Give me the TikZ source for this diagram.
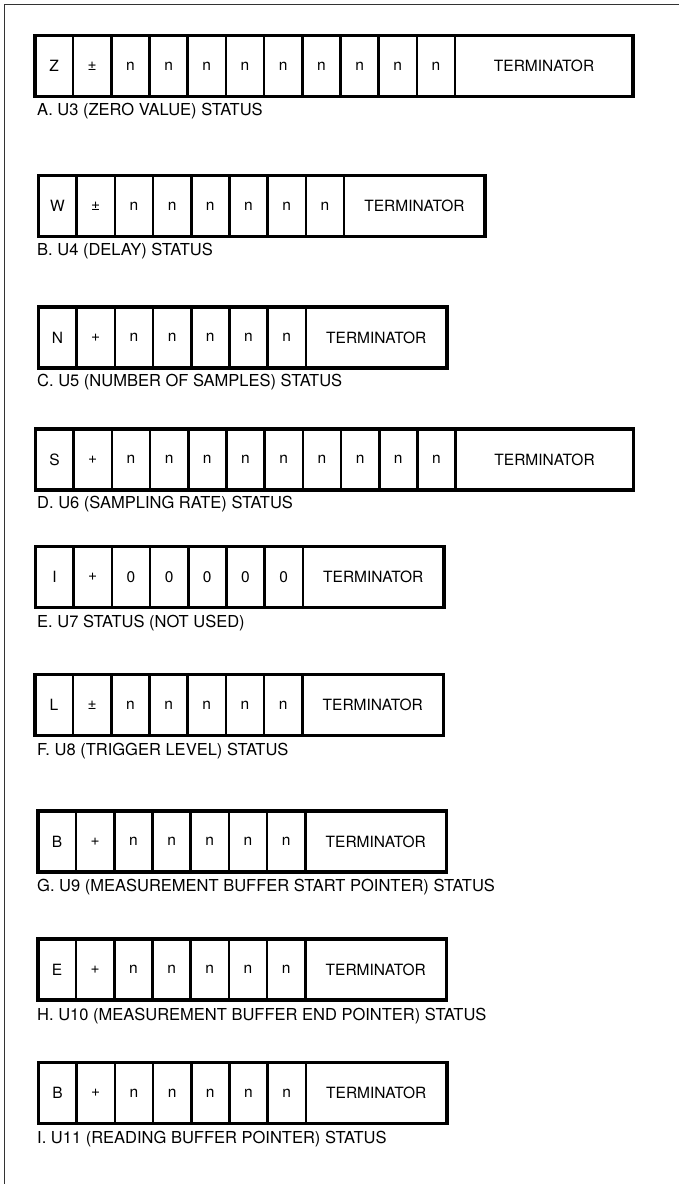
\documentclass[tikz,border=0pt]{standalone}
\usepackage{fontspec}
\setmainfont{TeX Gyre Heros}
\usepackage{tikz}
\usetikzlibrary{positioning}

\begin{document}
\begin{tikzpicture}[
  x=1pt, y=-1pt,
  node distance=0pt,
  cell/.style={rectangle, draw, line width=2.6pt, minimum width=38.2pt, minimum height=61pt, inner sep=0pt, outer sep=0pt, font=\fontsize{15.5}{18}\selectfont},
  termbox/.style={cell, minimum width=141pt},
  rowframe/.style={draw, line width=3.6pt},
  caption/.style={anchor=base west, inner sep=0pt, font=\fontsize{16.5}{19}\selectfont}
]
  \useasboundingbox (0,0) rectangle (679,1184);
  \draw[line width=0.8pt, black!80] (4.5,1184) -- (4.5,4.5) -- (679,4.5);

  % A. U3
  \node[cell] (a1) at (54,66) {Z};
  \node[cell, right=of a1] (a2) {±};
  \foreach \i [count=\k from 2] in {3,...,11} \node[cell, right=of a\k] (a\i) {n};
  \node[termbox, right=of a11, minimum width=178pt] (a12) {TERMINATOR};
  \draw[rowframe] (a1.north west) rectangle (a12.south east);
  \node[caption] (la) at (37,115) {A. U3 (ZERO VALUE) STATUS};

  % B. U4
  \node[cell] (b1) at (57.5,206) {W};
  \node[cell, right=of b1] (b2) {±};
  \foreach \i [count=\k from 2] in {3,...,8} \node[cell, right=of b\k] (b\i) {n};
  \node[termbox, right=of b8] (b9) {TERMINATOR};
  \draw[rowframe] (b1.north west) rectangle (b9.south east);
  \node[caption] (lb) at (37,255) {B. U4 (DELAY) STATUS};

  % C. U5
  \node[cell] (c1) at (57.5,337.5) {N};
  \node[cell, right=of c1] (c2) {+};
  \foreach \i [count=\k from 2] in {3,...,7} \node[cell, right=of c\k] (c\i) {n};
  \node[termbox, right=of c7] (c8) {TERMINATOR};
  \draw[rowframe] (c1.north west) rectangle (c8.south east);
  \node[caption] (lc) at (37,386) {C. U5 (NUMBER OF SAMPLES) STATUS};

  % D. U6
  \node[cell] (d1) at (54.5,459.5) {S};
  \node[cell, right=of d1] (d2) {+};
  \foreach \i [count=\k from 2] in {3,...,11} \node[cell, right=of d\k] (d\i) {n};
  \node[termbox, right=of d11, minimum width=178pt] (d12) {TERMINATOR};
  \draw[rowframe] (d1.north west) rectangle (d12.south east);
  \node[caption] (ld) at (37,508) {D. U6 (SAMPLING RATE) STATUS};

  % E. U7
  \node[cell] (e1) at (54.5,577) {I};
  \node[cell, right=of e1] (e2) {+};
  \foreach \i [count=\k from 2] in {3,...,7} \node[cell, right=of e\k] (e\i) {0};
  \node[termbox, right=of e7] (e8) {TERMINATOR};
  \draw[rowframe] (e1.north west) rectangle (e8.south east);
  \node[caption] (le) at (37,627) {E. U7 STATUS (NOT USED)};

  % F. U8
  \node[cell] (f1) at (54,705) {L};
  \node[cell, right=of f1] (f2) {±};
  \foreach \i [count=\k from 2] in {3,...,7} \node[cell, right=of f\k] (f\i) {n};
  \node[termbox, right=of f7] (f8) {TERMINATOR};
  \draw[rowframe] (f1.north west) rectangle (f8.south east);
  \node[caption] (lf) at (37,755) {F. U8 (TRIGGER LEVEL) STATUS};

  % G. U9
  \node[cell] (g1) at (57,841.5) {B};
  \node[cell, right=of g1] (g2) {+};
  \foreach \i [count=\k from 2] in {3,...,7} \node[cell, right=of g\k] (g\i) {n};
  \node[termbox, right=of g7] (g8) {TERMINATOR};
  \draw[rowframe] (g1.north west) rectangle (g8.south east);
  \node[caption] (lg) at (37,891) {G. U9 (MEASUREMENT BUFFER START POINTER) STATUS};

  % H. U10
  \node[cell] (h1) at (57,969.5) {E};
  \node[cell, right=of h1] (h2) {+};
  \foreach \i [count=\k from 2] in {3,...,7} \node[cell, right=of h\k] (h\i) {n};
  \node[termbox, right=of h7] (h8) {TERMINATOR};
  \draw[rowframe] (h1.north west) rectangle (h8.south east);
  \node[caption] (lh) at (37,1020) {H. U10 (MEASUREMENT BUFFER END POINTER) STATUS};

  % I. U11
  \node[cell] (i1) at (57.5,1093) {B};
  \node[cell, right=of i1] (i2) {+};
  \foreach \i [count=\k from 2] in {3,...,7} \node[cell, right=of i\k] (i\i) {n};
  \node[termbox, right=of i7] (i8) {TERMINATOR};
  \draw[rowframe] (i1.north west) rectangle (i8.south east);
  \node[caption] (li) at (37,1143) {I. U11 (READING BUFFER POINTER) STATUS};
\end{tikzpicture}
\end{document}
